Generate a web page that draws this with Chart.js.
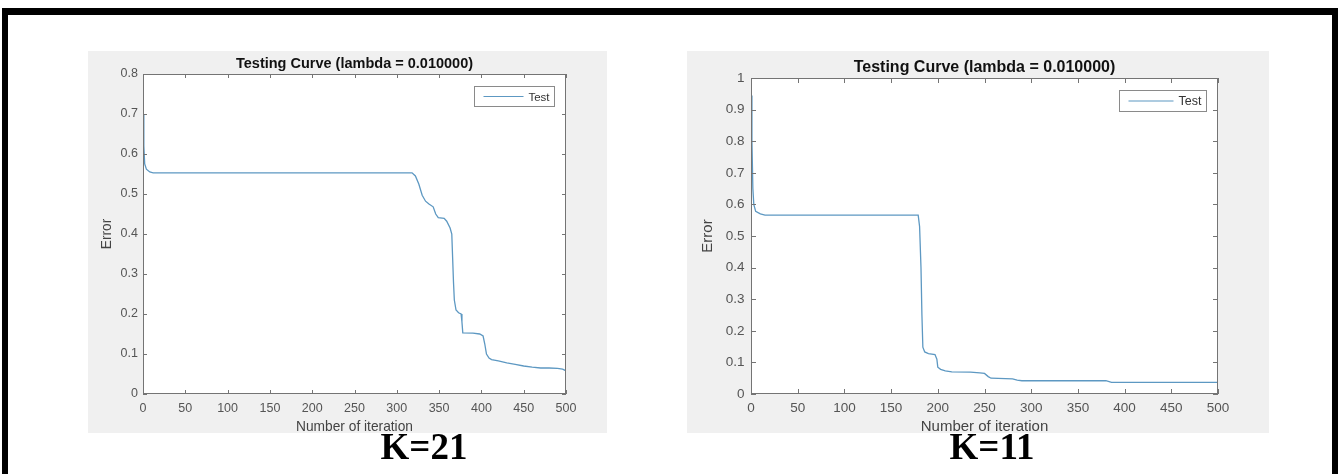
<!DOCTYPE html>
<html>
<head>
<meta charset="utf-8">
<script src="https://cdn.jsdelivr.net/npm/chart.js@4.4.1/dist/chart.umd.min.js"></script>
<style>
  body { margin: 0; background: #fff; width: 1341px; height: 474px; position: relative; overflow: hidden; }
  #frame { position: absolute; left: 2px; top: 8px; width: 1324px; height: 500px; border-style: solid; border-color: #000; border-width: 7px 6px 0 6px; }
  .panel { position: absolute; top: 51px; height: 382px; background: #f0f0f0; }
  #leftPanel { left: 88px; width: 519px; }
  #rightPanel { left: 687px; width: 582px; }
  .klabel { position: absolute; top: 428px; width: 140px; text-align: center; font: bold 37px "Liberation Serif", "Times New Roman", serif; line-height: 37px; color: #000; }
</style>
</head>
<body>
<div id="frame"></div>
<div class="panel" id="leftPanel"><canvas id="leftChart" width="519" height="382"></canvas></div>
<div class="panel" id="rightPanel"><canvas id="rightChart" width="582" height="382"></canvas></div>
<div class="klabel" style="left:354px">K=21</div>
<div class="klabel" style="left:922px">K=11</div>
<script>
// K=21 test error curve
const leftIter = [0, 1, 2, 4, 8, 12, 318, 322, 326, 330, 334, 338, 343, 346, 349, 356, 359, 363, 365, 366, 367, 368, 370, 373, 376, 377, 378, 390, 398, 402, 404, 406, 409, 412, 420, 430, 440, 450, 460, 470, 480, 490, 496, 500];
const leftError = [0.70, 0.62, 0.575, 0.562, 0.555, 0.553, 0.553, 0.545, 0.525, 0.497, 0.482, 0.475, 0.468, 0.450, 0.441, 0.439, 0.432, 0.415, 0.400, 0.340, 0.280, 0.235, 0.210, 0.203, 0.200, 0.180, 0.153, 0.152, 0.150, 0.145, 0.125, 0.100, 0.090, 0.086, 0.083, 0.078, 0.074, 0.070, 0.067, 0.065, 0.065, 0.064, 0.062, 0.058];

// K=11 test error curve
const rightIter = [0, 1, 2, 3, 5, 10, 15, 179, 180.5, 182, 183, 184, 186, 190, 197, 199, 200, 203, 208, 215, 235, 245, 250, 254, 257, 280, 285, 290, 380, 386, 500];
const rightError = [0.945, 0.80, 0.65, 0.60, 0.578, 0.570, 0.566, 0.566, 0.53, 0.40, 0.25, 0.148, 0.133, 0.128, 0.125, 0.11, 0.085, 0.078, 0.073, 0.070, 0.069, 0.067, 0.065, 0.055, 0.050, 0.048, 0.044, 0.042, 0.042, 0.037, 0.037];

const xTickLabels = ['0', '50', '100', '150', '200', '250', '300', '350', '400', '450', '500'];
const leftYTickLabels = ['0', '0.1', '0.2', '0.3', '0.4', '0.5', '0.6', '0.7', '0.8'];
const rightYTickLabels = ['0', '0.1', '0.2', '0.3', '0.4', '0.5', '0.6', '0.7', '0.8', '0.9', '1'];

const titleText = 'Testing Curve (lambda = 0.010000)';
const seriesName = 'Test';
const lineColor = '#5d98c2';

Chart.defaults.font.family = '"Liberation Sans", Arial, sans-serif';

// white plot area, box with inward ticks on all sides, and the small legend
const matlabAxes = {
    id: 'matlabAxes',
    beforeDraw(chart) {
        const a = chart.chartArea;
        const ctx = chart.ctx;
        ctx.save();
        ctx.fillStyle = '#fff';
        ctx.fillRect(a.left, a.top, a.width, a.height);
        ctx.restore();
    },
    afterDatasetsDraw(chart, args, opts) {
        const ctx = chart.ctx;
        const a = chart.chartArea;
        const x = chart.scales.x;
        const y = chart.scales.y;
        const L = opts.tickLen;
        ctx.save();
        ctx.strokeStyle = '#747474';
        ctx.lineWidth = 1;
        ctx.strokeRect(Math.round(a.left) + 0.5, Math.round(a.top) + 0.5, Math.round(a.width) - 1, Math.round(a.height) - 1);
        ctx.beginPath();
        x.ticks.forEach(t => {
            const px = Math.round(x.getPixelForValue(t.value)) + 0.5;
            ctx.moveTo(px, a.bottom); ctx.lineTo(px, a.bottom - L);
            ctx.moveTo(px, a.top); ctx.lineTo(px, a.top + L);
        });
        y.ticks.forEach(t => {
            const py = Math.round(y.getPixelForValue(t.value)) + 0.5;
            ctx.moveTo(a.left, py); ctx.lineTo(a.left + L, py);
            ctx.moveTo(a.right, py); ctx.lineTo(a.right - L, py);
        });
        ctx.stroke();

        // legend box
        const lg = opts.legend;
        const bx = Math.round(a.right - lg.margin - lg.w) + 0.5;
        const by = Math.round(a.top + lg.margin) + 0.5;
        ctx.fillStyle = '#fff';
        ctx.fillRect(bx, by, lg.w, lg.h);
        ctx.strokeStyle = '#8a8a8a';
        ctx.strokeRect(bx, by, lg.w, lg.h);
        const ds = chart.data.datasets[0];
        ctx.strokeStyle = ds.borderColor;
        ctx.lineWidth = 1.2;
        ctx.beginPath();
        ctx.moveTo(bx + lg.lineStart, by + lg.h / 2);
        ctx.lineTo(bx + lg.lineStart + lg.lineLen, by + lg.h / 2);
        ctx.stroke();
        ctx.fillStyle = '#333';
        ctx.font = lg.fontSize + 'px "Liberation Sans", Arial, sans-serif';
        ctx.textAlign = 'right';
        ctx.textBaseline = 'middle';
        ctx.fillText(ds.label, bx + lg.w - 5, by + lg.h / 2 + 1);
        ctx.restore();
    }
};

function makeChart(id, iters, errors, yMax, yLabels, cfg) {
    const ctx = document.getElementById(id).getContext('2d');
    return new Chart(ctx, {
        type: 'line',
        data: {
            datasets: [{
                label: seriesName,
                data: iters.map((v, i) => ({ x: v, y: errors[i] })),
                borderColor: lineColor,
                borderWidth: 1.3,
                pointRadius: 0,
                tension: 0,
                fill: false
            }]
        },
        options: {
            responsive: false,
            animation: false,
            devicePixelRatio: 1,
            layout: { padding: { top: 0, left: 0, right: cfg.padRight, bottom: 0 } },
            scales: {
                x: {
                    type: 'linear',
                    min: 0,
                    max: 500,
                    grid: { display: false, drawTicks: false },
                    border: { display: false },
                    ticks: {
                        stepSize: 50,
                        padding: cfg.xTickPad,
                        color: '#555',
                        font: { size: cfg.tickSize },
                        maxRotation: 0,
                        autoSkip: false,
                        callback: (v, i) => xTickLabels[i]
                    },
                    title: {
                        display: true,
                        text: 'Number of iteration',
                        color: '#444',
                        font: { size: cfg.labelSize },
                        padding: { top: 0, bottom: cfg.xTitlePad }
                    },
                    afterFit: s => { s.height = cfg.bottom; }
                },
                y: {
                    min: 0,
                    max: yMax,
                    grid: { display: false, drawTicks: false },
                    border: { display: false },
                    ticks: {
                        stepSize: 0.1,
                        padding: cfg.yTickPad,
                        color: '#555',
                        font: { size: cfg.tickSize },
                        autoSkip: false,
                        callback: (v, i) => yLabels[i]
                    },
                    title: {
                        display: true,
                        text: 'Error',
                        color: '#444',
                        font: { size: cfg.labelSize },
                        padding: { top: cfg.yTitlePad, bottom: 0 }
                    },
                    afterFit: s => { s.width = cfg.left; }
                }
            },
            plugins: {
                legend: { display: false },
                tooltip: { enabled: false },
                title: {
                    display: true,
                    fullSize: false,
                    text: titleText,
                    color: '#111',
                    font: { size: cfg.titleSize, weight: 'bold' },
                    padding: cfg.titlePad
                },
                matlabAxes: { tickLen: cfg.tickLen, legend: cfg.legend }
            }
        },
        plugins: [matlabAxes]
    });
}

makeChart('leftChart', leftIter, leftError, 0.8, leftYTickLabels, {
    padRight: 41, left: 55, bottom: 39,
    tickSize: 12.5, labelSize: 13.75, xTickPad: 7, yTickPad: 5, yTitlePad: 10.75, xTitlePad: -2.5,
    titleSize: 14.5, titlePad: { top: 4.6, bottom: 1 },
    tickLen: 4,
    legend: { w: 80, h: 20, margin: 12, lineStart: 9, lineLen: 40, fontSize: 11.5 }
});

makeChart('rightChart', rightIter, rightError, 1, rightYTickLabels, {
    padRight: 51, left: 64, bottom: 39,
    tickSize: 13.5, labelSize: 15, xTickPad: 6.5, yTickPad: 6.5, yTitlePad: 12, xTitlePad: -3,
    titleSize: 16, titlePad: { top: 7.2, bottom: 0.6 },
    tickLen: 5,
    legend: { w: 87, h: 21, margin: 12, lineStart: 9, lineLen: 45, fontSize: 12.5 }
});
</script>
</body>
</html>
